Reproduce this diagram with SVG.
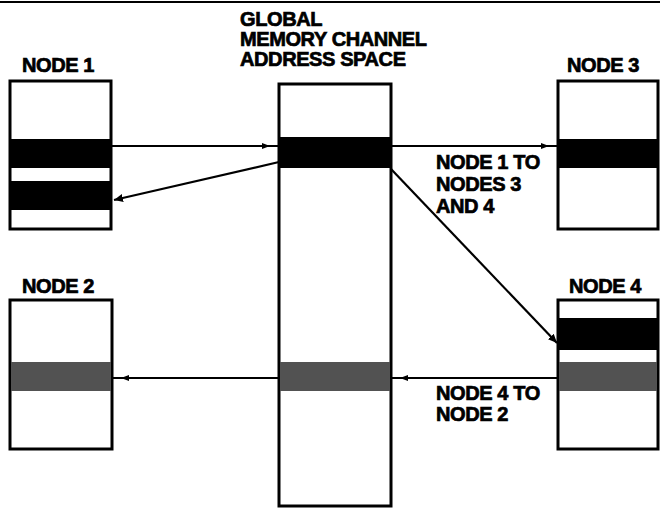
<svg xmlns="http://www.w3.org/2000/svg" width="660" height="512" viewBox="0 0 660 512">
<style>
  .box { fill: #ffffff; stroke: #000000; stroke-width: 3; }
  .blk { fill: #000000; }
  .gry { fill: #525252; }
  .lbl { font-family: "Liberation Sans", Arial, sans-serif; font-weight: bold; font-size: 20px; fill: #000000; stroke: #000000; stroke-width: 0.7; letter-spacing: -0.4px; }
  .conn { stroke: #000000; stroke-width: 2.2; fill: none; }
</style>
<defs>
  <marker id="tip" markerUnits="userSpaceOnUse" markerWidth="10" markerHeight="8" refX="9" refY="4" orient="auto">
    <path d="M0,0 L9,4 L0,8 z" fill="#000"/>
  </marker>
  <marker id="off" markerUnits="userSpaceOnUse" markerWidth="20" markerHeight="8" refX="17" refY="4" orient="auto">
    <path d="M0,1 L8,4 L0,7 z" fill="#000"/>
  </marker>
</defs>
<rect width="660" height="512" fill="#ffffff"/>
<line x1="0" y1="2" x2="660" y2="2" stroke="#000" stroke-width="2"/>

<g id="global">
  <rect class="box" x="279" y="84" width="112" height="422"/>
  <rect class="blk" x="279" y="137" width="112" height="31"/>
  <rect class="gry" x="280" y="362" width="110" height="29"/>
  <text class="lbl" x="240" y="26">GLOBAL</text>
  <text class="lbl" x="240" y="46">MEMORY CHANNEL</text>
  <text class="lbl" x="240" y="66">ADDRESS SPACE</text>
</g>

<g id="node1">
  <rect class="box" x="10" y="81" width="101" height="148"/>
  <rect class="blk" x="10" y="139" width="101" height="29"/>
  <rect class="blk" x="10" y="181" width="101" height="29"/>
  <text class="lbl" x="22" y="72">NODE 1</text>
</g>

<g id="node3">
  <rect class="box" x="558" y="81" width="100" height="148"/>
  <rect class="blk" x="558" y="139" width="100" height="29"/>
  <text class="lbl" x="567" y="72">NODE 3</text>
</g>

<g id="node2">
  <rect class="box" x="10" y="300" width="102" height="149"/>
  <rect class="gry" x="11" y="362" width="100" height="29"/>
  <text class="lbl" x="22" y="293">NODE 2</text>
</g>

<g id="node4">
  <rect class="box" x="558" y="300" width="100" height="149"/>
  <rect class="blk" x="558" y="318" width="100" height="32"/>
  <rect class="gry" x="559" y="362" width="98" height="29"/>
  <text class="lbl" x="569" y="293">NODE 4</text>
</g>

<g id="connectors">
  <line class="conn" x1="111" y1="146" x2="279" y2="146" marker-end="url(#off)"/>
  <line class="conn" x1="279" y1="162" x2="114" y2="200" marker-end="url(#tip)"/>
  <line class="conn" x1="391" y1="146" x2="558" y2="146" marker-end="url(#off)"/>
  <line class="conn" x1="391" y1="169" x2="557" y2="343" marker-end="url(#tip)"/>
  <line class="conn" x1="558" y1="378" x2="391" y2="378" marker-end="url(#off)"/>
  <line class="conn" x1="279" y1="378" x2="112" y2="378" marker-end="url(#off)"/>
</g>

<g id="labels">
  <text class="lbl" x="436" y="169">NODE 1 TO</text>
  <text class="lbl" x="436" y="191">NODES 3</text>
  <text class="lbl" x="436" y="213">AND 4</text>
  <text class="lbl" x="436" y="400">NODE 4 TO</text>
  <text class="lbl" x="436" y="421">NODE 2</text>
</g>
</svg>
